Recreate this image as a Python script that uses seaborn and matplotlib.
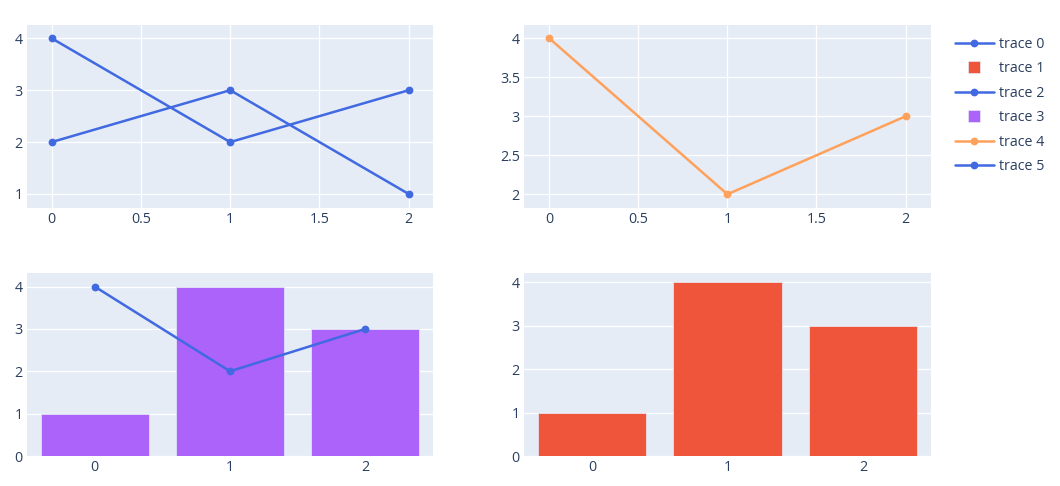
import matplotlib
matplotlib.use("Agg")
import matplotlib.pyplot as plt
import seaborn as sns
import pandas as pd
from matplotlib.lines import Line2D

sns.set_theme(style="darkgrid")
plt.rcParams['font.family'] = ['Open Sans', 'DejaVu Sans']

# ---- data ----
x_vals = [0, 1, 2]
trace0_y = [4, 2, 3]
trace2_y = [2, 3, 1]
trace1_y = [1, 4, 3]   # bars, bottom-right
trace3_y = [1, 4, 3]   # bars, bottom-left
trace4_y = [4, 2, 3]   # orange line, top-right
trace5_y = [4, 2, 3]   # line over bars, bottom-left
bar_cats = ["0", "1", "2"]
labels = ["trace 0", "trace 1", "trace 2", "trace 3", "trace 4", "trace 5"]

BLUE = "#4169E1"
RED = "#EF553B"
PURPLE = "#AB63FA"
ORANGE = "#FFA15A"
BG = "#E5ECF6"
TXT = "#2a3f5f"
FS = 10.3

W, H = 1060, 486
fig = plt.figure(figsize=(W / 100, H / 100), dpi=100)

def ax_px(x0, y0, x1, y1):
    return fig.add_axes([x0 / W, (H - y1) / H, (x1 - x0) / W, (y1 - y0) / H])

ax_tl = ax_px(27, 25, 433, 208)
ax_tr = ax_px(524, 25, 931, 208)
ax_bl = ax_px(27, 273, 433, 456)
ax_br = ax_px(524, 273, 931, 456)

LW = 1.8
MS = 5.6

def style(ax):
    ax.set_facecolor(BG)
    for s in ax.spines.values():
        s.set_visible(False)
    ax.grid(True, color="white", linewidth=0.9)
    ax.set_axisbelow(True)
    ax.tick_params(axis="both", length=0, pad=3.0, labelsize=FS, labelcolor=TXT)
    ax.set_xlabel("")
    ax.set_ylabel("")

line_kw = dict(marker="o", linewidth=LW, markersize=MS, markeredgewidth=0, legend=False)

# top-left
df0 = pd.DataFrame({"x": x_vals, "y": trace0_y})
df2 = pd.DataFrame({"x": x_vals, "y": trace2_y})
sns.lineplot(data=df0, x="x", y="y", ax=ax_tl, color=BLUE, **line_kw)
sns.lineplot(data=df2, x="x", y="y", ax=ax_tl, color=BLUE, **line_kw)
ax_tl.set_xlim(-0.138, 2.136)
ax_tl.set_ylim(0.73, 4.256)
ax_tl.set_xticks([0, 0.5, 1, 1.5, 2])
ax_tl.set_xticklabels(["0", "0.5", "1", "1.5", "2"])
ax_tl.set_yticks([1, 2, 3, 4])
ax_tl.set_yticklabels(["1", "2", "3", "4"])
style(ax_tl)

# top-right
df4 = pd.DataFrame({"x": x_vals, "y": trace4_y})
sns.lineplot(data=df4, x="x", y="y", ax=ax_tr, color=ORANGE, **line_kw)
ax_tr.set_xlim(-0.142, 2.143)
ax_tr.set_ylim(1.824, 4.171)
ax_tr.set_xticks([0, 0.5, 1, 1.5, 2])
ax_tr.set_xticklabels(["0", "0.5", "1", "1.5", "2"])
ax_tr.set_yticks([2, 2.5, 3, 3.5, 4])
ax_tr.set_yticklabels(["2", "2.5", "3", "3.5", "4"])
style(ax_tr)

# bottom-left
df3 = pd.DataFrame({"x": bar_cats, "y": trace3_y})
sns.barplot(data=df3, x="x", y="y", ax=ax_bl, color=PURPLE, saturation=1, width=0.8,
            edgecolor=BG, linewidth=0.5)
df5 = pd.DataFrame({"x": x_vals, "y": trace5_y})
sns.lineplot(data=df5, x="x", y="y", ax=ax_bl, color=BLUE, **line_kw)
ax_bl.set_xlim(-0.5, 2.5)
ax_bl.set_ylim(0, 4.32)
ax_bl.set_yticks([0, 1, 2, 3, 4])
ax_bl.set_yticklabels(["0", "1", "2", "3", "4"])
ax_bl.set_xticks([0, 1, 2])
ax_bl.set_xticklabels(bar_cats)
style(ax_bl)
ax_bl.grid(False, axis="x")

# bottom-right
df1 = pd.DataFrame({"x": bar_cats, "y": trace1_y})
sns.barplot(data=df1, x="x", y="y", ax=ax_br, color=RED, saturation=1, width=0.8,
            edgecolor=BG, linewidth=0.5)
ax_br.set_xlim(-0.5, 2.5)
ax_br.set_ylim(0, 4.21)
ax_br.set_yticks([0, 1, 2, 3, 4])
ax_br.set_yticklabels(["0", "1", "2", "3", "4"])
ax_br.set_xticks([0, 1, 2])
ax_br.set_xticklabels(bar_cats)
style(ax_br)
ax_br.grid(False, axis="x")

# legend (proxy handles)
def line_h(c):
    return Line2D([], [], color=c, marker="o", linewidth=LW, markersize=MS, markeredgewidth=0)

def sq_h(c):
    return Line2D([], [], color=c, marker="s", linestyle="none", markersize=9.0,
                  markeredgecolor=BG, markeredgewidth=0.5)

handles = [line_h(BLUE), sq_h(RED), line_h(BLUE), sq_h(PURPLE), line_h(ORANGE), line_h(BLUE)]
leg = fig.legend(handles, labels, loc="upper left", bbox_to_anchor=(955 / W, 1 - 37 / H),
                 frameon=False, fontsize=FS, labelcolor=TXT, handlelength=2.7,
                 handleheight=0.8, handletextpad=0.4, labelspacing=0.66, borderaxespad=0,
                 borderpad=0)

fig.savefig("out.png", dpi=100)
